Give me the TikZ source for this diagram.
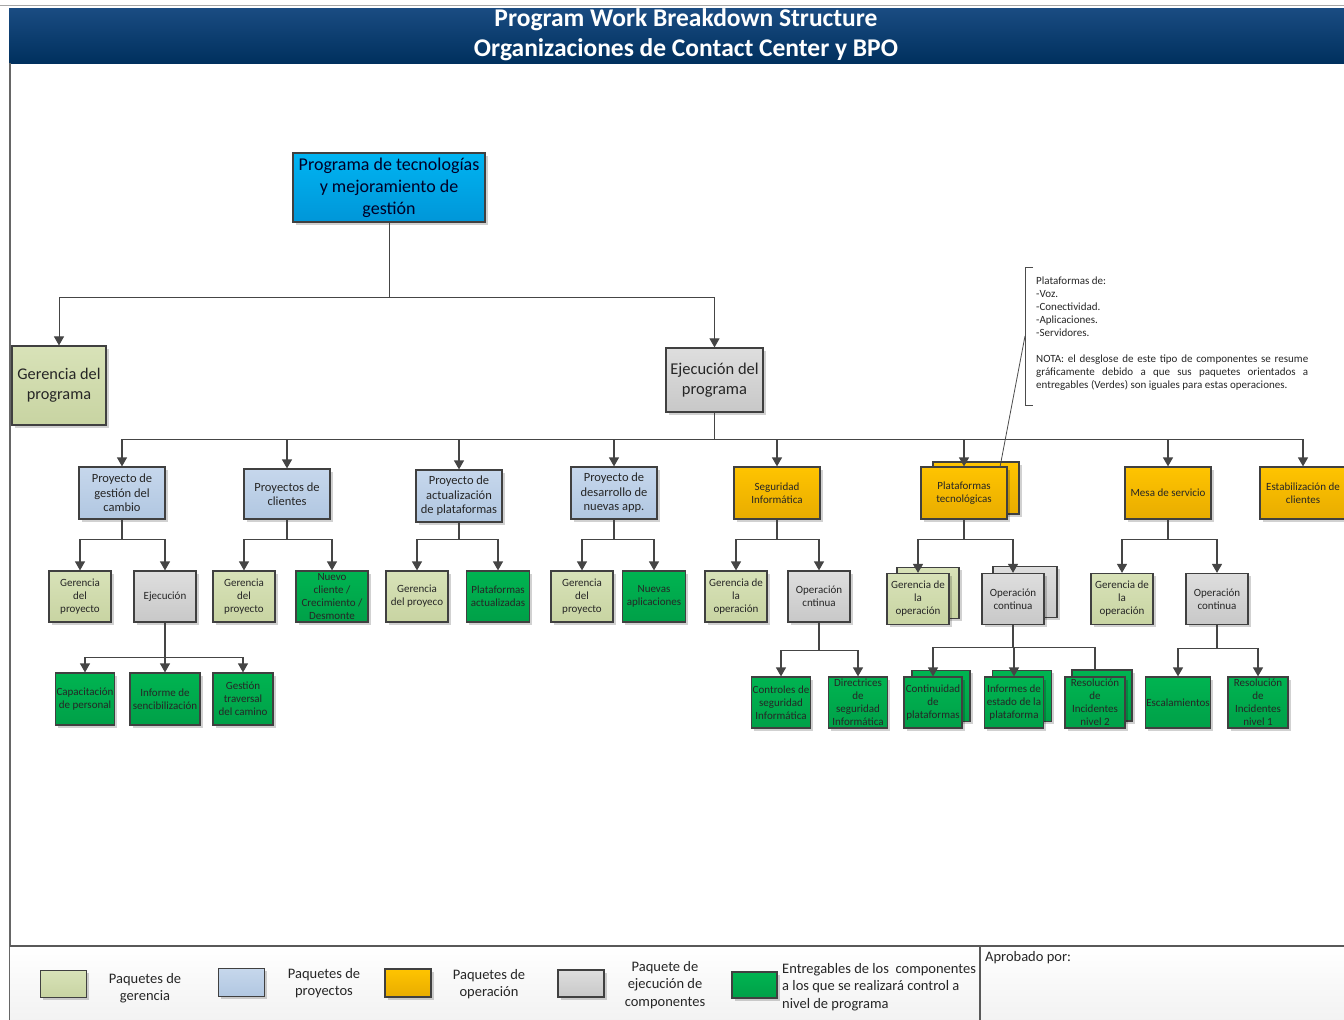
\documentclass[tikz,border=0pt]{standalone}
\usepackage{fontspec}
\setmainfont{Carlito}
\usetikzlibrary{arrows.meta,shadows,calc}

\definecolor{hdrA}{HTML}{1A4C82}
\definecolor{hdrB}{HTML}{00305E}
\definecolor{boxline}{HTML}{404040}
\definecolor{linkc}{HTML}{454545}
\definecolor{txt}{HTML}{262626}
\definecolor{mgA}{HTML}{D8E2B8}
\definecolor{mgB}{HTML}{C8D4A2}
\definecolor{pjA}{HTML}{C6D7EC}
\definecolor{pjB}{HTML}{B1C7E1}
\definecolor{opA}{HTML}{FFC400}
\definecolor{opB}{HTML}{E8AC00}
\definecolor{exA}{HTML}{DEDEDE}
\definecolor{exB}{HTML}{C8C8C8}
\definecolor{dlA}{HTML}{00B451}
\definecolor{dlB}{HTML}{00A048}
\definecolor{rtA}{HTML}{00B4F2}
\definecolor{rtB}{HTML}{0096D8}

\begin{document}
\begin{tikzpicture}[x=1pt,y=-1pt,
  box/.style={draw=boxline, line width=1.2pt, align=center, inner sep=1pt,
    text=txt, font=\fontsize{11}{13}\selectfont,
    drop shadow={shadow xshift=2.5pt, shadow yshift=-2.5pt, fill=black, opacity=0.18}},
  mgmt/.style={box, top color=mgA, bottom color=mgB},
  proj/.style={box, top color=pjA, bottom color=pjB, font=\fontsize{12.5}{14.5}\selectfont},
  oper/.style={box, top color=opA, bottom color=opB},
  exec/.style={box, top color=exA, bottom color=exB},
  deliv/.style={box, top color=dlA, bottom color=dlB},
  small/.style={minimum width=62pt, minimum height=51pt},
  lvtwo/.style={minimum width=86pt, minimum height=52pt},
  link/.style={draw=linkc, line width=1.2pt, -{Triangle[width=10pt,length=9pt]}},
  plain/.style={draw=linkc, line width=1.2pt},
  legtext/.style={align=center, text=txt, font=\fontsize{14.5}{17.5}\selectfont, inner sep=0pt},
  notetext/.style={text=txt, font=\fontsize{11}{13}\selectfont, inner sep=0pt}
]
\useasboundingbox (0,0) rectangle (1344,1020);
\fill[white] (0,0) rectangle (1344,1020);

% ---------- header band ----------
\draw[gray!70, line width=1pt] (0,5) -- (1344,5);
\shade[top color=hdrA, bottom color=hdrB] (9,8) rectangle (1344,63);
\node[text=white, font=\bfseries\fontsize{25.5}{30}\selectfont, align=center, inner sep=0pt]
  (title) at (686,35) {Program Work Breakdown Structure\\Organizaciones de Contact Center y BPO};
\draw[gray!80!black, line width=1.2pt] (10,63) -- (10,1020);

% ---------- footer / legend ----------
\shade[top color=white, bottom color=gray!10] (10,946) rectangle (1344,1020);
\draw[gray!70!black, line width=1.2pt] (10,946) -- (1344,946);
\draw[gray!70!black, line width=1.2pt] (980,946) -- (980,1020);

\node[mgmt,  minimum width=46pt, minimum height=27pt] (kmg) at (63.5,984) {};
\node[proj,  minimum width=46pt, minimum height=28pt] (kpj) at (241.5,982.5) {};
\node[oper,  minimum width=46pt, minimum height=28pt] (kop) at (408,983) {};
\node[exec,  minimum width=46pt, minimum height=27pt] (kex) at (581,983.5) {};
\node[deliv, minimum width=45pt, minimum height=26pt] (kdl) at (754.5,985) {};
\node[legtext] (lmg) at (145,988) {Paquetes de\\gerencia};
\node[legtext] (lpj) at (324,983) {Paquetes de\\proyectos};
\node[legtext] (lop) at (489,984) {Paquetes de\\operación};
\node[legtext] (lex) at (665,985) {Paquete de\\ejecución de\\componentes};
\node[legtext, align=left, anchor=west] (ldl) at (782,987)
  {Entregables de los\ \ componentes\\a los que se realizará control a\\nivel de programa};
\node[legtext, anchor=north west] (apr) at (985,951) {Aprobado por:};

% ---------- top levels ----------
\node[box, top color=rtA, bottom color=rtB, minimum width=192pt, minimum height=69pt,
  font=\fontsize{18}{22}\selectfont, text=black!85!blue] (root) at (389,187.5)
  {Programa de tecnologías\\y mejoramiento de\\gestión};
\node[mgmt, minimum width=94pt, minimum height=79pt, font=\fontsize{16.3}{20}\selectfont]
  (gp) at (59,385.5) {Gerencia del\\programa};
\node[exec, minimum width=97pt, minimum height=64pt, font=\fontsize{16.5}{20}\selectfont]
  (ep) at (714.5,380) {Ejecución del\\programa};

% ---------- second level ----------
\node[proj, lvtwo] (n1) at (122,493) {Proyecto de\\gestión del\\cambio};
\node[proj, lvtwo, minimum height=50pt] (n2) at (287,494) {Proyectos de\\clientes};
\node[proj, lvtwo] (n3) at (459,496) {Proyecto de\\actualización\\de plataformas};
\node[proj, lvtwo] (n4) at (614,493) {Proyecto de\\desarrollo de\\nuevas app.};
\node[oper, lvtwo] (n5) at (777,493) {Seguridad\\Informática};
\node[oper, lvtwo] (n6b) at (976,488) {};
\node[oper, lvtwo] (n6) at (964,493) {Plataformas\\tecnológicas};
\node[oper, lvtwo] (n7) at (1168,493) {Mesa de servicio};
\node[oper, lvtwo] (n8) at (1303,493) {Estabilización de\\clientes};

% ---------- third level ----------
\node[mgmt, small] (a1) at (80,596.5) {Gerencia\\del\\proyecto};
\node[exec, small] (a2) at (165,596.5) {Ejecución};
\node[mgmt, small] (b1) at (244,596.5) {Gerencia\\del\\proyecto};
\node[deliv, small, minimum width=72pt] (b2) at (332,596.5) {Nuevo\\cliente /\\Crecimiento /\\Desmonte};
\node[mgmt, small] (c1) at (417,596.5) {Gerencia\\del proyeco};
\node[deliv, small, minimum width=63pt] (c2) at (498,596.5) {Plataformas\\actualizadas};
\node[mgmt, small] (d1) at (582,596.5) {Gerencia\\del\\proyecto};
\node[deliv, small, minimum width=63pt] (d2) at (654,596.5) {Nuevas\\aplicaciones};
\node[mgmt, small] (e1) at (736,596.5) {Gerencia de\\la\\operación};
\node[exec, small] (e2) at (819,596.5) {Operación\\cntinua};
\node[mgmt, small] (f1b) at (928,593) {};
\node[mgmt, small] (f1) at (918,599) {Gerencia de\\la\\operación};
\node[exec, small, minimum width=64pt] (f2b) at (1025,592) {};
\node[exec, small] (f2) at (1013,599) {Operación\\continua};
\node[mgmt, small] (g1) at (1122,599) {Gerencia de\\la\\operación};
\node[exec, small] (g2) at (1217,599) {Operación\\continua};

% ---------- fourth level ----------
\node[deliv, small, minimum width=58pt, minimum height=52pt] (a21) at (85,699) {Capacitación\\de personal};
\node[deliv, small, minimum width=70pt, minimum height=52pt] (a22) at (165,699) {Informe de\\sencibilización};
\node[deliv, small, minimum width=60pt, minimum height=52pt] (a23) at (243,699) {Gestión\\traversal\\del camino};
\node[deliv, small, minimum width=59pt] (e21) at (781,702.5) {Controles de\\seguridad\\Informática};
\node[deliv, small, minimum width=59pt] (e22) at (858,702.5) {Directrices\\de\\seguridad\\Informática};
\node[deliv, small, minimum width=58pt] (f21b) at (941,696) {};
\node[deliv, small, minimum width=58pt] (f21) at (933,702.5) {Continuidad\\de\\plataformas};
\node[deliv, small, minimum width=59pt] (f22b) at (1022,696) {};
\node[deliv, small, minimum width=59pt] (f22) at (1014,702.5) {Informes de\\estado de la\\plataforma};
\node[deliv, small, minimum width=60pt] (f23b) at (1102,695.5) {};
\node[deliv, small, minimum width=60pt] (f23) at (1095,702.5) {Resolución\\de\\Incidentes\\nivel 2};
\node[deliv, small, minimum width=64pt] (g21) at (1178,702.5) {Escalamientos};
\node[deliv, small, minimum width=60pt] (g22) at (1258,702.5) {Resolución\\de\\Incidentes\\nivel 1};

% ---------- connectors ----------
\draw[link, line width=1pt] (root.south) -- ++(0,75) -| (gp.north);
\draw[link, line width=1pt] (root.south) -- ++(0,75) -| (ep.north);
\foreach \c in {n1,n2,n3,n4,n5,n6,n7,n8}
  \draw[link] (ep.south) -- ++(0,27) -| (\c.north);

\draw[link] (n1.south) -- ++(0,20) -| (a1.north);
\draw[link] (n1.south) -- ++(0,20) -| (a2.north);
\draw[link] (n2.south) -- ++(0,20) -| (b1.north);
\draw[link] (n2.south) -- ++(0,20) -| (b2.north);
\draw[link] (n3.south) -- ++(0,17) -| (c1.north);
\draw[link] (n3.south) -- ++(0,17) -| (c2.north);
\draw[link] (n4.south) -- ++(0,20) -| (d1.north);
\draw[link] (n4.south) -- ++(0,20) -| (d2.north);
\draw[link] (n5.south) -- ++(0,20) -| (e1.north);
\draw[link] (n5.south) -- ++(0,20) -| (e2.north);
\draw[link] (n6.south) -- ++(0,20) -| (f1.north);
\draw[link] (n6.south) -- ++(0,20) -| (f2.north);
\draw[link] (n7.south) -- ++(0,20) -| (g1.north);
\draw[link] (n7.south) -- ++(0,20) -| (g2.north);

\foreach \c in {a21,a22,a23}
  \draw[link] (a2.south) -- ++(0,35) -| (\c.north);
\foreach \c in {e21,e22}
  \draw[link] (e2.south) -- ++(0,28) -| (\c.north);
\foreach \c in {f21,f22}
  \draw[link] (f2.south) -- ++(0,22) -| (\c.north);
\draw[plain] (f2.south) -- ++(0,22) -| (f23.north |- f23b.north);
\foreach \c in {g21,g22}
  \draw[link] (g2.south) -- ++(0,23) -| (\c.north);

% ---------- callout note on technology platforms ----------
\coordinate (notefoot) at (1000,467);
\coordinate (notemid) at (1025,336);
\draw[gray!60!black, line width=0.8pt] (1033,267) -- (1025,267) -- (1025,405) -- (1033,405);
\draw[gray!60!black, line width=0.8pt] (notefoot) -- (notemid);
\node[notetext, anchor=north west, align=left] (notelist) at (1036,277)
  {Plataformas de:\\-Voz.\\-Conectividad.\\-Aplicaciones.\\-Servidores.};
\node[notetext, anchor=north west, align=left] (nota) at (1036,355)
  {\makebox[272pt][s]{NOTA: el desglose de este tipo de componentes se resume}\\
   \makebox[272pt][s]{gráficamente debido a que sus paquetes orientados a}\\
   entregables (Verdes) son iguales para estas operaciones.};
\end{tikzpicture}
\end{document}
